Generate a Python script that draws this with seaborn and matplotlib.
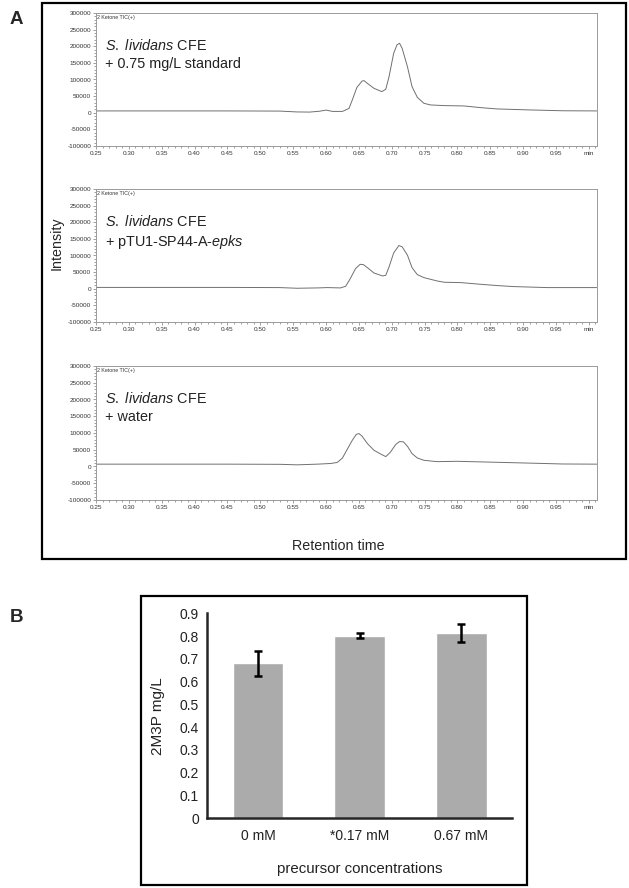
import matplotlib
matplotlib.use("Agg")
import matplotlib.pyplot as plt
import matplotlib.patches as mpatches
from matplotlib.ticker import MultipleLocator
import seaborn as sns

# chromatograms (retention time in min, intensity)
t_std = [0.25, 0.35, 0.45, 0.53, 0.555, 0.575, 0.59, 0.60, 0.61, 0.625, 0.635, 0.640,
         0.647, 0.655, 0.658, 0.663, 0.673, 0.685, 0.691, 0.696, 0.703, 0.708, 0.712,
         0.716, 0.724, 0.731, 0.739, 0.749, 0.759, 0.78, 0.81, 0.835, 0.86, 0.91, 0.96, 1.012]
i_std = [5500, 5500, 5500, 5000, 2500, 2000, 4500, 8000, 4000, 4000, 13000, 38000,
         76000, 95500, 96500, 88500, 73500, 63500, 70500, 108500, 178500, 204000, 209000,
         193500, 138500, 78500, 46500, 28500, 23500, 21500, 20500, 15500, 11500, 8500, 6000, 5500]

t_epks = [0.25, 0.35, 0.45, 0.53, 0.556, 0.587, 0.602, 0.622, 0.630, 0.637, 0.645, 0.652,
          0.657, 0.663, 0.673, 0.686, 0.691, 0.696, 0.703, 0.711, 0.716, 0.724, 0.731,
          0.739, 0.749, 0.769, 0.78, 0.805, 0.835, 0.861, 0.886, 0.937, 1.012]
i_epks = [4000, 4000, 4000, 3500, 1500, 2500, 3500, 2500, 7500, 30500, 60500, 73500,
          72500, 63500, 47500, 38500, 40500, 65500, 107500, 130000, 126000, 101000, 63500,
          42500, 33500, 23500, 19500, 18500, 13500, 9500, 6500, 3500, 3500]

t_water = [0.25, 0.35, 0.45, 0.53, 0.556, 0.587, 0.607, 0.617, 0.625, 0.632, 0.640, 0.646,
           0.650, 0.655, 0.663, 0.673, 0.683, 0.691, 0.698, 0.706, 0.712, 0.718, 0.724,
           0.731, 0.739, 0.749, 0.769, 0.80, 0.82, 0.861, 0.912, 0.96, 1.012]
i_water = [7000, 7000, 7000, 6500, 5000, 7000, 9000, 12000, 25000, 50000, 78000, 95500,
           98500, 90500, 68500, 48500, 37500, 29500, 42500, 65500, 74500, 73500, 60500,
           38500, 25500, 18500, 14500, 15500, 14500, 12500, 10000, 7500, 7000]

labels_a = [r"$\it{S.}$ $\it{lividans}$ CFE" + "\n+ 0.75 mg/L standard",
            r"$\it{S.}$ $\it{lividans}$ CFE" + "\n+ pTU1-SP44-A-" + r"$\it{epks}$",
            r"$\it{S.}$ $\it{lividans}$ CFE" + "\n+ water"]

x_ticks = [0.25, 0.30, 0.35, 0.40, 0.45, 0.50, 0.55, 0.60, 0.65, 0.70, 0.75, 0.80, 0.85, 0.90, 0.95, 1.00]
x_ticklabels = ["0.25", "0.30", "0.35", "0.40", "0.45", "0.50", "0.55", "0.60", "0.65",
                "0.70", "0.75", "0.80", "0.85", "0.90", "0.95", "min"]

# panel B
conc = ["0 mM", "*0.17 mM", "0.67 mM"]
conc_mean = [0.680, 0.802, 0.812]
conc_err = [0.054, 0.011, 0.040]

sns.set_style("white")
plt.rcParams['font.family'] = ['Liberation Sans', 'DejaVu Sans']
plt.rcParams['mathtext.fontset'] = 'custom'
plt.rcParams['mathtext.rm'] = 'Liberation Sans'
plt.rcParams['mathtext.it'] = 'Liberation Sans:italic'
plt.rcParams['axes.unicode_minus'] = False

fig = plt.figure(figsize=(6.29, 8.88), dpi=100)
W, H = 629.0, 888.0

def fbox(x0, y0, x1, y1):
    # pixel box (top-left origin) -> figure fraction rect
    return [x0 / W, 1 - y1 / H, (x1 - x0) / W, (y1 - y0) / H]

# outer frames
fig.patches.append(mpatches.Rectangle((42 / W, 1 - 559 / H), 584 / W, 556 / H,
                                      transform=fig.transFigure, fill=False, lw=1.6, ec='black'))
fig.patches.append(mpatches.Rectangle((141 / W, 1 - 885 / H), 386 / W, 289 / H,
                                      transform=fig.transFigure, fill=False, lw=1.6, ec='black'))

fig.text(10 / W, 1 - 19 / H, "A", fontsize=13.5, fontweight='bold', va='center', ha='left')
fig.text(10 / W, 1 - 617 / H, "B", fontsize=13.5, fontweight='bold', va='center', ha='left')

panels = [(t_std, i_std, 13, 146), (t_epks, i_epks, 189, 322), (t_water, i_water, 366, 500)]
for (tt, ii, top, bot), lab in zip(panels, labels_a):
    ax = fig.add_axes(fbox(96, top, 597, bot))
    sns.lineplot(x=tt, y=ii, ax=ax, color='#707070', linewidth=0.7)
    ax.set_xlim(0.25, 1.0125)
    ax.set_ylim(-100000, 300000)
    ax.set_xticks(x_ticks)
    ax.set_xticklabels(x_ticklabels)
    ax.set_yticks(range(-100000, 300001, 50000))
    ax.xaxis.set_minor_locator(MultipleLocator(0.01))
    ax.yaxis.set_minor_locator(MultipleLocator(10000))
    for s in ax.spines.values():
        s.set_color('#9a9a9a')
        s.set_linewidth(0.7)
    ax.tick_params(which='both', direction='out', color='#7a7a7a', width=0.5,
                   labelsize=4.6, labelcolor='#333333', pad=1)
    ax.tick_params(which='major', length=2.5)
    ax.tick_params(which='minor', length=1.2)
    ax.tick_params(axis='both', which='both', bottom=True, left=True)
    ax.text(0.002, 0.985, "2 Ketone TIC(+)", transform=ax.transAxes, fontsize=3.8,
            color='#333333', va='top', ha='left')
    ax.text(0.017, 0.81, lab, transform=ax.transAxes, fontsize=10.4, va='top',
            ha='left', linespacing=1.3, color='#222222')
    ax.set_xlabel("")
    ax.set_ylabel("")

fig.text(57 / W, 1 - 243 / H, "Intensity", fontsize=10.3, rotation=90, va='center', ha='center')
fig.text(338 / W, 1 - 546 / H, "Retention time", fontsize=10.3, va='center', ha='center')

# bar chart
axb = fig.add_axes(fbox(207.3, 613.3, 512, 818.3))
sns.barplot(x=conc, y=conc_mean, ax=axb, color='#ababab', width=0.5, errorbar=None,
            saturation=1)
axb.errorbar(range(len(conc)), conc_mean, yerr=conc_err, fmt='none', ecolor='black',
             elinewidth=1.8, capsize=3, capthick=1.8)
axb.set_xlim(-0.5, 2.5)
axb.set_ylim(0, 0.9)
axb.set_yticks([0, 0.1, 0.2, 0.3, 0.4, 0.5, 0.6, 0.7, 0.8, 0.9])
axb.set_yticklabels(["0", "0.1", "0.2", "0.3", "0.4", "0.5", "0.6", "0.7", "0.8", "0.9"])
sns.despine(ax=axb)
axb.spines['left'].set_linewidth(1.8)
axb.spines['bottom'].set_linewidth(1.8)
axb.tick_params(length=0, labelsize=10, labelcolor='#222222')
axb.tick_params(axis='y', pad=6)
axb.tick_params(axis='x', pad=8)
axb.set_ylabel("2M3P mg/L", fontsize=11, color='#222222')
axb.set_xlabel("precursor concentrations", fontsize=10.8, color='#222222')
axb.yaxis.set_label_coords(-0.14, 0.5)
axb.xaxis.set_label_coords(0.5, -0.215)

fig.savefig("out.png", dpi=100)
